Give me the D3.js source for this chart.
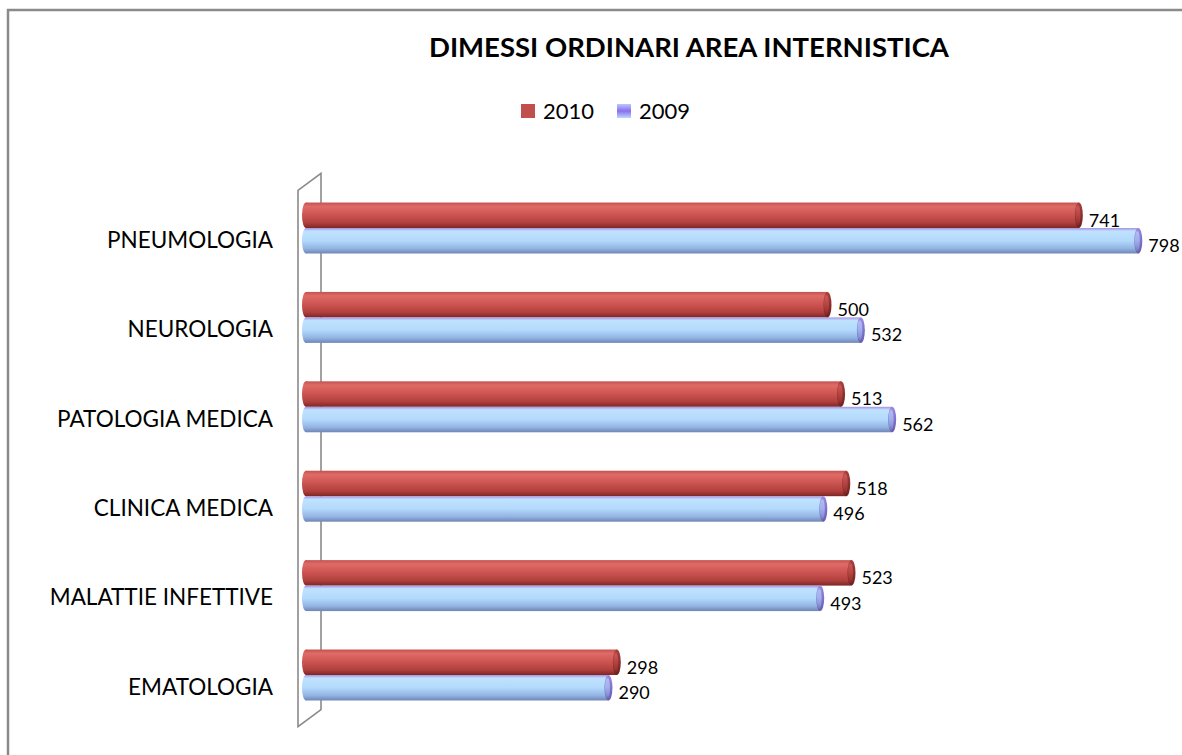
<!DOCTYPE html>
<html>
<head>
<meta charset="utf-8">
<script src="https://cdn.jsdelivr.net/npm/d3@7"></script>
<style>
  body { margin: 0; background: #fff; }
  svg { display: block; }
</style>
</head>
<body>
<div id="chart"></div>
<script>
// Data
const categories = ["PNEUMOLOGIA", "NEUROLOGIA", "PATOLOGIA MEDICA", "CLINICA MEDICA", "MALATTIE INFETTIVE", "EMATOLOGIA"];
const seriesNames = ["2010", "2009"];
const values2010 = [741, 500, 513, 518, 523, 298];
const values2009 = [798, 532, 562, 496, 493, 290];

const width = 1182;
const height = 755;

const svg = d3.select("#chart")
    .append("svg")
    .attr("width", width)
    .attr("height", height)
    .style("font-family", "Lato, 'Open Sans', sans-serif");

// gradients for the cylinder look
const defs = svg.append("defs");
function cylGrad(id, stops) {
    const g = defs.append("linearGradient")
        .attr("id", id)
        .attr("x1", 0).attr("y1", 0).attr("x2", 0).attr("y2", 1);
    stops.forEach(s => g.append("stop").attr("offset", s[0]).attr("stop-color", s[1]));
}
cylGrad("g2010", [[0, "#c4514e"], [0.15, "#df6b67"], [0.45, "#cf5653"], [0.8, "#b0403d"], [1, "#7e2624"]]);
cylGrad("g2009", [[0, "#a690e0"], [0.12, "#bfe2ff"], [0.5, "#b3d9fb"], [0.8, "#93b4e4"], [1, "#6f85b4"]]);
cylGrad("cap2010", [[0, "#a8403d"], [0.5, "#8f2f2c"], [1, "#6c1f1d"]]);
cylGrad("cap2009", [[0, "#9b8ae0"], [0.5, "#8070d0"], [1, "#6a5cb0"]]);
cylGrad("leg2009", [[0, "#b9c8ff"], [0.5, "#8a6ff0"], [1, "#b9d8ff"]]);

const colors = { "2010": "#c0504d", "2009": "url(#leg2009)" };

// outer frame
svg.append("rect")
    .attr("x", 8).attr("y", 10)
    .attr("width", width + 20).attr("height", height + 20)
    .attr("fill", "none")
    .attr("stroke", "#8a8a8a")
    .attr("stroke-width", 2.5);

// Title
svg.append("text")
    .attr("x", 689)
    .attr("y", 57)
    .attr("text-anchor", "middle")
    .style("font-size", "27.5px")
    .style("font-weight", "bold")
    .style("fill", "#000")
    .text("DIMESSI ORDINARI AREA INTERNISTICA");

// Scales
const x = d3.scaleLinear()
    .domain([0, 800])
    .range([306, 306 + 800 * 1.043]);

const y0 = d3.scaleBand()
    .domain(categories)
    .range([183.3, 719.7])
    .paddingInner(0.43)
    .paddingOuter(0.215);

const y1 = d3.scaleBand()
    .domain(seriesNames)
    .range([0, y0.bandwidth()]);

// back wall (3d)
const wx0 = x(0) - 8, wx1 = x(0) + 15;
const wy0 = y0.range()[0] + 7, wy1 = y0.range()[1] + 7;
svg.append("path")
    .attr("d", `M${wx0},${wy0} L${wx1},${wy0 - 17} L${wx1},${wy1 - 17} L${wx0},${wy1} Z`)
    .attr("fill", "none")
    .attr("stroke", "#8a8a8a")
    .attr("stroke-width", 1.6);

// Category labels
svg.append("g")
    .selectAll("text")
    .data(categories)
    .enter().append("text")
    .attr("x", 273)
    .attr("y", d => y0(d) + y0.bandwidth() / 2 + 12)
    .attr("dy", "0.35em")
    .attr("text-anchor", "end")
    .style("font-size", "22.5px")
    .style("fill", "#000")
    .text(d => d);

// Bars
const rows = categories.map((c, i) => ({ cat: c, vals: [
    { key: "2010", value: values2010[i] },
    { key: "2009", value: values2009[i] }
]}));

const group = svg.append("g")
    .selectAll("g")
    .data(rows)
    .enter().append("g")
    .attr("transform", d => `translate(0,${y0(d.cat)})`);

const bar = group.selectAll("g")
    .data(d => d.vals)
    .enter().append("g")
    .attr("transform", d => `translate(0,${y1(d.key)})`);

const bh = y1.bandwidth();
const rx = 4;

bar.append("ellipse")
    .attr("cx", x(0))
    .attr("cy", bh / 2)
    .attr("rx", rx)
    .attr("ry", bh / 2)
    .attr("fill", d => `url(#g${d.key})`);

bar.append("rect")
    .attr("x", x(0))
    .attr("y", 0)
    .attr("width", d => x(d.value) - x(0))
    .attr("height", bh)
    .attr("fill", d => `url(#g${d.key})`);

bar.append("ellipse")
    .attr("cx", d => x(d.value))
    .attr("cy", bh / 2)
    .attr("rx", rx)
    .attr("ry", bh / 2)
    .attr("fill", d => `url(#cap${d.key})`);

bar.append("ellipse")
    .attr("cx", d => x(d.value) - 1)
    .attr("cy", bh / 2)
    .attr("rx", rx - 1.5)
    .attr("ry", bh / 2 - 2)
    .attr("fill", d => `url(#g${d.key})`)
    .attr("opacity", 0.6);

// Value labels
bar.append("text")
    .attr("x", d => x(d.value) + 10)
    .attr("y", bh / 2 + 5)
    .attr("dy", "0.35em")
    .style("font-size", "18px")
    .style("fill", "#000")
    .text(d => d.value);

// Legend
const legendX = [521, 617];
const legend = svg.selectAll(".legend")
    .data(seriesNames)
    .enter().append("g")
    .attr("class", "legend")
    .attr("transform", (d, i) => `translate(${legendX[i]},104)`);

legend.append("rect")
    .attr("width", 14)
    .attr("height", 14)
    .attr("fill", d => colors[d]);

legend.append("text")
    .attr("x", 22)
    .attr("y", 7)
    .attr("dy", "0.35em")
    .style("font-size", "22px")
    .style("fill", "#000")
    .text(d => d);
</script>
</body>
</html>
